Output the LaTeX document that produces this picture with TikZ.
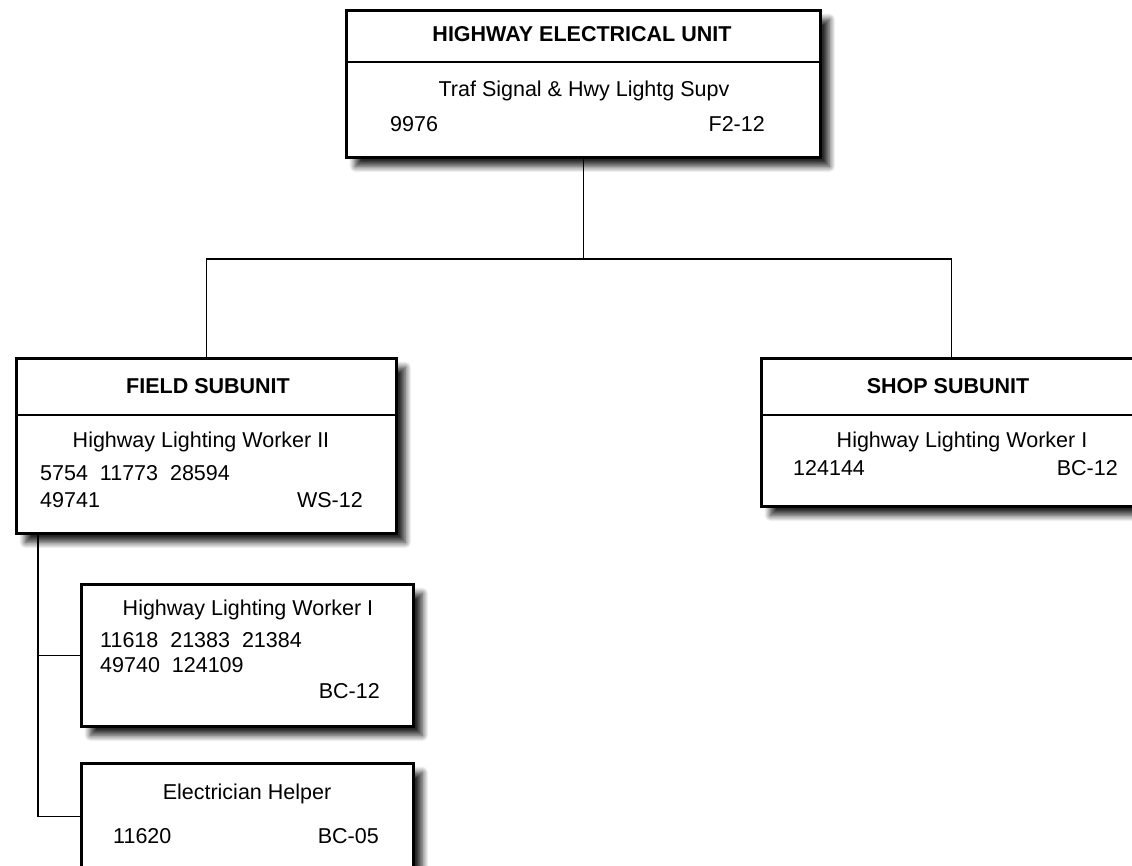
\documentclass[tikz,border=0pt]{standalone}
\usepackage{fontspec}
\setmainfont{Liberation Sans}
\usetikzlibrary{calc,shadows.blur}

\begin{document}
\begin{tikzpicture}[
  x=1pt,y=-1pt,
  font=\fontsize{21.5}{25}\selectfont,
  orgbox/.style={draw=black,line width=2.8pt,fill=white,rectangle,
    anchor=north west,inner sep=0pt,
    blur shadow={shadow xshift=9pt,shadow yshift=-9pt,
      shadow blur radius=6pt,shadow blur steps=12,shadow opacity=85}},
  ttl/.style={anchor=base,inner sep=0pt,
    font=\fontsize{21.5}{25}\selectfont\bfseries},
  txt/.style={anchor=base,inner sep=0pt},
  txl/.style={anchor=base west,inner sep=0pt},
  txr/.style={anchor=base east,inner sep=0pt},
  link/.style={draw=black,line width=1.8pt},
  divl/.style={draw=black,line width=1.6pt}
]
  \useasboundingbox (0,0) rectangle (1132,866);
  \clip (0,0) rectangle (1132,866);

  % boxes
  \node[orgbox,minimum width=474pt,minimum height=147pt] (unit) at (345,9) {};
  \node[orgbox,minimum width=380pt,minimum height=175pt] (field) at (15,357) {};
  \node[orgbox,minimum width=380pt,minimum height=148pt] (shop) at (760,357) {};
  \node[orgbox,minimum width=332pt,minimum height=142pt] (worker) at (80,583) {};
  \node[orgbox,minimum width=332pt,minimum height=106pt] (helper) at (80,762) {};

  % header lines
  \draw[divl] ($(unit.north west)+(0,53)$) -- ($(unit.north east)+(0,53)$);
  \draw[divl] ($(field.north west)+(0,58)$) -- ($(field.north east)+(0,58)$);
  \draw[divl] ($(shop.north west)+(0,58)$) -- ($(shop.north east)+(0,58)$);

  % texts
  \node[ttl] (unitTitle) at (582,42) {HIGHWAY ELECTRICAL UNIT};
  \node[txt] (unitJob) at (584,97) {Traf Signal \& Hwy Lightg Supv};
  \node[txl] (unitNum) at (390,132) {9976};
  \node[txr] (unitGrade) at (765,132) {F2-12};

  \node[ttl] (fieldTitle) at (208,393) {FIELD SUBUNIT};
  \node[txt] (fieldJob) at (201,447) {Highway Lighting Worker II};
  \node[txl] (fieldNumA) at (40,480) {5754~~11773~~28594};
  \node[txl] (fieldNumB) at (40,507) {49741};
  \node[txr] (fieldGrade) at (363,507) {WS-12};

  \node[ttl] (shopTitle) at (948,393) {SHOP SUBUNIT};
  \node[txt] (shopJob) at (962,447) {Highway Lighting Worker I};
  \node[txl] (shopNum) at (793,475) {124144};
  \node[txr] (shopGrade) at (1118,475) {BC-12};

  \node[txt] (workerJob) at (248,615) {Highway Lighting Worker I};
  \node[txl] (workerNumA) at (100,647) {11618~~21383~~21384};
  \node[txl] (workerNumB) at (100,672) {49740~~124109};
  \node[txr] (workerGrade) at (380,698) {BC-12};

  \node[txt] (helperJob) at (247,799) {Electrician Helper};
  \node[txl] (helperNum) at (113,843) {11620};
  \node[txr] (helperGrade) at (379,843) {BC-05};

  % connectors
  \draw[link] (unit.south) -- ++(0,100) coordinate (bus);
  \draw[link] (field.north) |- (bus) -| (shop.north);
  \coordinate (spine) at ($(field.south west)+(23,0)$);
  \draw[link] (spine) |- (worker.west);
  \draw[link] (spine) |- (helper.west);
\end{tikzpicture}
\end{document}
